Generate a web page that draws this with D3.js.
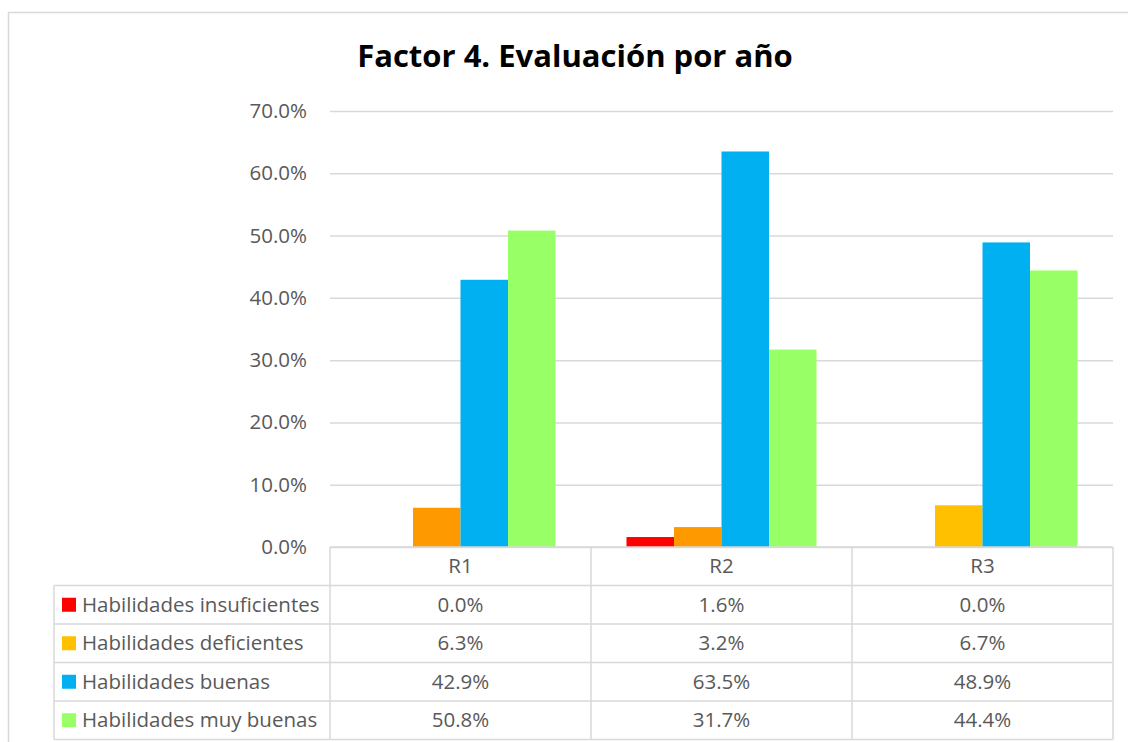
<!DOCTYPE html>
<html>
<head>
<meta charset="utf-8">
<script src="https://cdn.jsdelivr.net/npm/d3@7"></script>
<style>
  body { margin: 0; background: #fff; }
  svg text { font-family: "Open Sans", sans-serif; }
</style>
</head>
<body>
<div id="chart"></div>
<script>
const categories = ['R1', 'R2', 'R3'];
const seriesNames = [
  'Habilidades insuficientes',
  'Habilidades deficientes',
  'Habilidades buenas',
  'Habilidades muy buenas',
];
const insuficientes = [0.0, 0.016, 0.0];
const deficientes = [0.063, 0.032, 0.067];
const buenas = [0.429, 0.635, 0.489];
const muyBuenas = [0.508, 0.317, 0.444];
const yTicks = [0, 0.1, 0.2, 0.3, 0.4, 0.5, 0.6, 0.7];

const seriesColors = ['#FF0000', '#FFC000', '#00B0F0', '#99FF66'];
// the deficientes bars of R1 and R2 are coloured differently from the legend
const pointColors = [null, ['#FF9900', '#FF9900', '#FFC000'], null, null];

const W = 1128;
const H = 742;
const plot = {
  left: 330, right: 1113, top: 111, bottom: 547,
};
const rowH = 38.5;
const legendLeft = 54;
const fontSize = '20.5px';

const series = seriesNames.map((name, i) => ({
  name,
  color: seriesColors[i],
  values: [insuficientes, deficientes, buenas, muyBuenas][i],
  idx: i,
}));

const svg = d3.select('#chart').append('svg')
  .attr('width', W)
  .attr('height', H);

// chart frame
svg.append('rect')
  .attr('x', 8.5).attr('y', 12.5)
  .attr('width', W + 10).attr('height', H + 10)
  .attr('fill', 'none')
  .attr('stroke', '#d9d9d9')
  .attr('stroke-width', 1.5);

svg.append('text')
  .attr('x', 575)
  .attr('y', 67)
  .attr('text-anchor', 'middle')
  .style('font-size', '31px')
  .style('font-weight', 'bold')
  .style('fill', '#000')
  .text('Factor 4. Evaluación por año');

const xScale = d3.scaleBand()
  .domain(categories)
  .range([plot.left, plot.right]);

const xInner = d3.scaleBand()
  .domain(seriesNames)
  .range([35.5, xScale.bandwidth() - 35.5]);

const yScale = d3.scaleLinear()
  .domain([0, 0.7])
  .range([plot.bottom, plot.top]);

// gridlines
svg.append('g')
  .attr('class', 'grid')
  .attr('transform', `translate(${plot.left},0)`)
  .call(d3.axisLeft(yScale).tickValues(yTicks).tickSize(-(plot.right - plot.left)).tickFormat(''))
  .call(g => g.select('.domain').remove())
  .call(g => g.selectAll('line').attr('stroke', '#d9d9d9').attr('stroke-width', 1.5));

// y axis labels
svg.append('g')
  .attr('transform', `translate(${plot.left - 23},0)`)
  .call(d3.axisLeft(yScale).tickValues(yTicks).tickSize(0).tickPadding(0).tickFormat(d3.format('.1%')))
  .call(g => g.select('.domain').remove())
  .call(g => g.selectAll('text')
    .style('font-size', fontSize)
    .style('fill', '#595959')
    .attr('font-family', null));

// bars
const group = svg.selectAll('.series')
  .data(series)
  .enter().append('g')
  .attr('class', 'series');

group.selectAll('rect')
  .data(s => s.values.map((v, j) => ({
    v, cat: categories[j], s, j,
  })))
  .enter().append('rect')
  .attr('x', d => xScale(d.cat) + xInner(d.s.name))
  .attr('width', xInner.bandwidth())
  .attr('y', d => yScale(d.v))
  .attr('height', d => yScale(0) - yScale(d.v))
  .attr('fill', d => (pointColors[d.s.idx] ? pointColors[d.s.idx][d.j] : d.s.color));

// data table
const table = svg.append('g').attr('class', 'table');
const gridStroke = '#d9d9d9';
const tableBottom = plot.bottom + rowH * (series.length + 1);

// horizontal lines
d3.range(1, series.length + 2).forEach((r) => {
  table.append('line')
    .attr('x1', legendLeft).attr('x2', plot.right)
    .attr('y1', plot.bottom + r * rowH).attr('y2', plot.bottom + r * rowH)
    .attr('stroke', gridStroke).attr('stroke-width', 1.5);
});
// axis line on top of header
table.append('line')
  .attr('x1', plot.left).attr('x2', plot.right)
  .attr('y1', plot.bottom).attr('y2', plot.bottom)
  .attr('stroke', gridStroke).attr('stroke-width', 1.5);
// vertical lines
table.append('line')
  .attr('x1', legendLeft).attr('x2', legendLeft)
  .attr('y1', plot.bottom + rowH).attr('y2', tableBottom)
  .attr('stroke', gridStroke).attr('stroke-width', 1.5);
categories.concat(['end']).forEach((c, i) => {
  const x = i < categories.length ? xScale(c) : plot.right;
  table.append('line')
    .attr('x1', x).attr('x2', x)
    .attr('y1', plot.bottom).attr('y2', tableBottom)
    .attr('stroke', gridStroke).attr('stroke-width', 1.5);
});

// header labels
table.selectAll('.cat-label')
  .data(categories)
  .enter().append('text')
  .attr('class', 'cat-label')
  .attr('x', d => xScale(d) + xScale.bandwidth() / 2)
  .attr('y', plot.bottom + rowH / 2)
  .attr('dy', '0.35em')
  .attr('text-anchor', 'middle')
  .style('font-size', fontSize)
  .style('fill', '#595959')
  .text(d => d);

const fmt = d3.format('.1%');
series.forEach((s, i) => {
  const cy = plot.bottom + rowH * (i + 1) + rowH / 2;
  table.append('rect')
    .attr('x', 62).attr('y', cy - 7)
    .attr('width', 14).attr('height', 14)
    .attr('fill', s.color);
  table.append('text')
    .attr('x', 82).attr('y', cy)
    .attr('dy', '0.35em')
    .style('font-size', fontSize)
    .style('fill', '#595959')
    .text(s.name);
  table.selectAll(null)
    .data(s.values)
    .enter().append('text')
    .attr('x', (d, j) => xScale(categories[j]) + xScale.bandwidth() / 2)
    .attr('y', cy)
    .attr('dy', '0.35em')
    .attr('text-anchor', 'middle')
    .style('font-size', fontSize)
    .style('fill', '#595959')
    .text(d => fmt(d));
});
</script>
</body>
</html>
